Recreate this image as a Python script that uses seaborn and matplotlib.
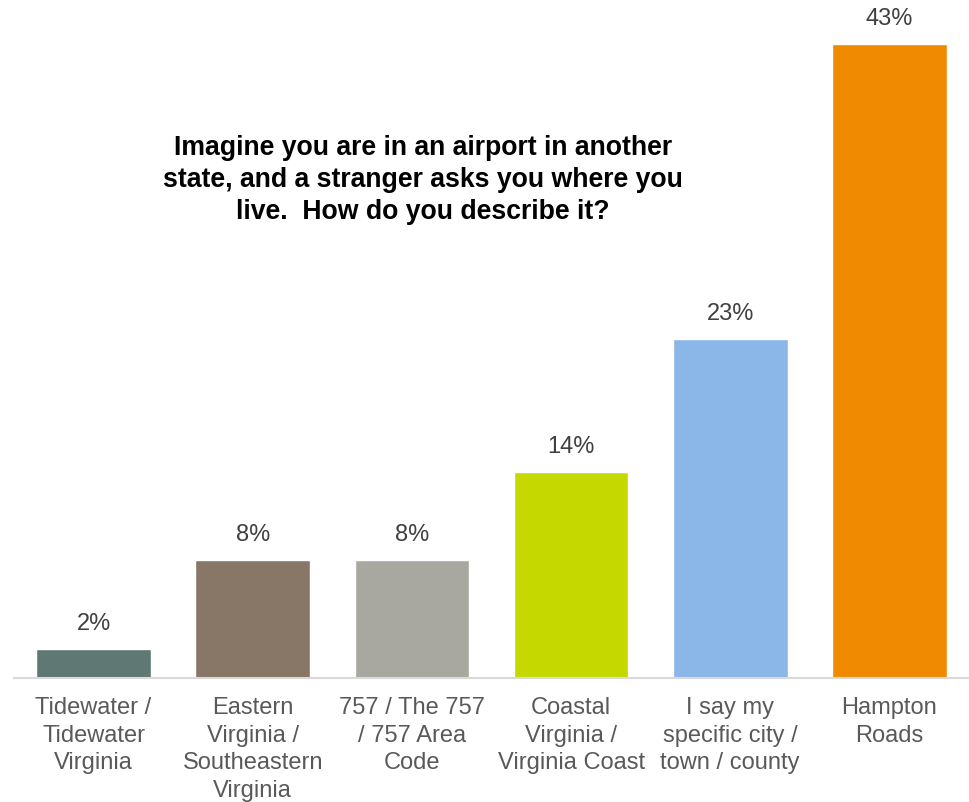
import matplotlib
matplotlib.use("Agg")
import matplotlib.pyplot as plt
import seaborn as sns
import pandas as pd

categories = [
    "Tidewater /\nTidewater\nVirginia",
    "Eastern\nVirginia /\nSoutheastern\nVirginia",
    "757 / The 757\n/ 757 Area\nCode",
    "Coastal\nVirginia /\nVirginia Coast",
    "I say my\nspecific city /\ntown / county",
    "Hampton\nRoads",
]
values = [2, 8, 8, 14, 23, 43]
colors = ["#5F7874", "#887667", "#A8A8A0", "#C5D800", "#8BB6E8", "#F08A00"]
title = ("Imagine you are in an airport in another\n"
         "state, and a stranger asks you where you\n"
         "live.  How do you describe it?")

sns.set_theme(style="white")
plt.rcParams["font.family"] = ["Liberation Sans", "DejaVu Sans"]

df = pd.DataFrame({"category": categories, "value": values})

fig = plt.figure(figsize=(9.69, 8.02), dpi=100)
ax = fig.add_axes([14 / 969, 0.1546, 955 / 969, 0.827])

sns.barplot(data=df, x="category", y="value", hue="category",
            palette=colors, legend=False, width=0.72, saturation=1,
            ax=ax)

ax.set_xlim(-0.5, len(categories) - 0.5)
ax.set_ylim(0, 45)
ax.set_xlabel("")
ax.set_ylabel("")
ax.set_yticks([])
for side in ["top", "right", "left"]:
    ax.spines[side].set_visible(False)
ax.spines["bottom"].set_color("#D9D9D9")
ax.spines["bottom"].set_linewidth(1.5)
ax.tick_params(axis="x", length=0, pad=14, labelsize=17, labelcolor="#595959")
ax.set_xticks(range(len(categories)))
ax.set_xticklabels(categories, linespacing=1.32)

for i, v in enumerate(values):
    ax.annotate(f"{v}%", xy=(i, v), xytext=(0, 18), textcoords="offset points",
                ha="center", va="center", fontsize=17, color="#404040")

fig.text(0.4365, 1 - 180 / 802, title, ha="center", va="center",
         multialignment="center", fontsize=19.2, fontweight="bold",
         color="black", linespacing=1.32)

fig.savefig("out.png", dpi=100)
